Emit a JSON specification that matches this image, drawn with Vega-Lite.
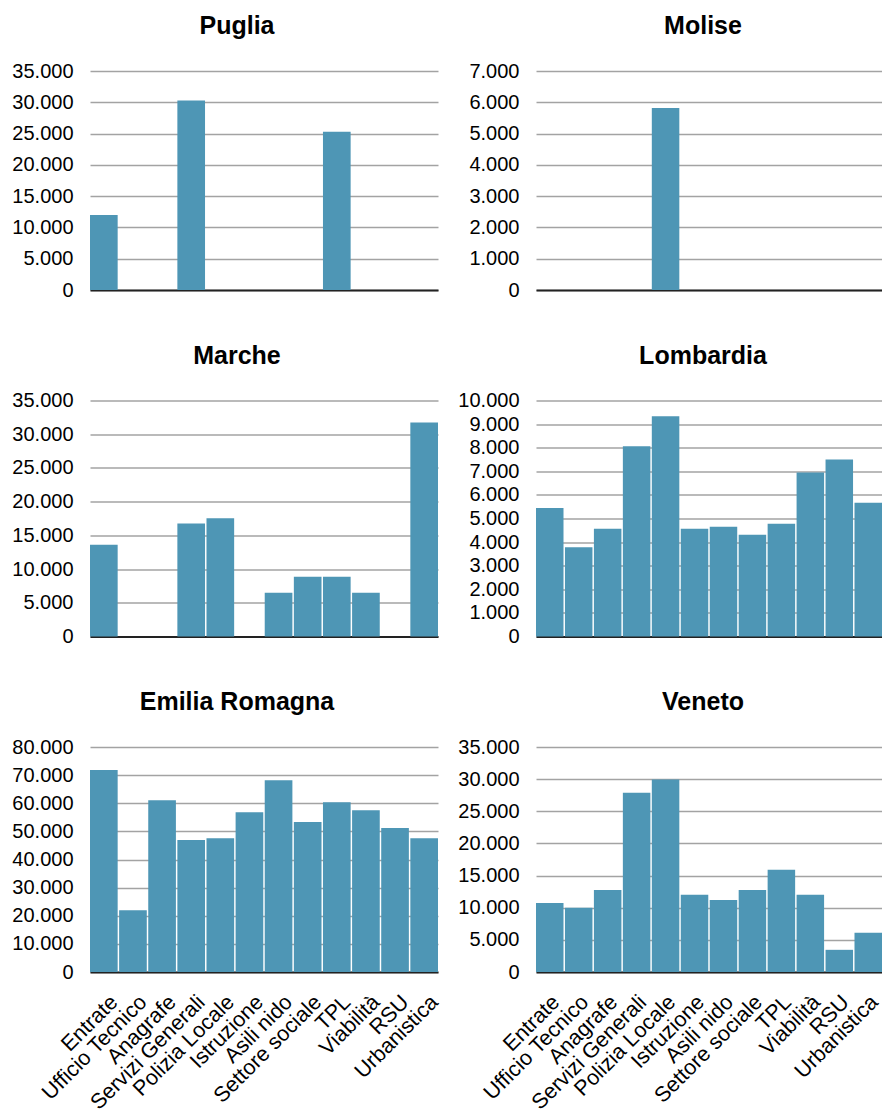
{
  "$schema": "https://vega.github.io/schema/vega-lite/v6.json",
  "padding": {"left": 11, "top": 14, "right": 0, "bottom": 0},
  "datasets": {
    "spese": [
      {"regione": "Puglia", "servizio": "Entrate", "valore": 12000},
      {"regione": "Puglia", "servizio": "Ufficio Tecnico", "valore": 0},
      {"regione": "Puglia", "servizio": "Anagrafe", "valore": 0},
      {"regione": "Puglia", "servizio": "Servizi Generali", "valore": 30300},
      {"regione": "Puglia", "servizio": "Polizia Locale", "valore": 0},
      {"regione": "Puglia", "servizio": "Istruzione", "valore": 0},
      {"regione": "Puglia", "servizio": "Asili nido", "valore": 0},
      {"regione": "Puglia", "servizio": "Settore sociale", "valore": 0},
      {"regione": "Puglia", "servizio": "TPL", "valore": 25300},
      {"regione": "Puglia", "servizio": "Viabilità", "valore": 0},
      {"regione": "Puglia", "servizio": "RSU", "valore": 0},
      {"regione": "Puglia", "servizio": "Urbanistica", "valore": 0},
      {"regione": "Molise", "servizio": "Entrate", "valore": 0},
      {"regione": "Molise", "servizio": "Ufficio Tecnico", "valore": 0},
      {"regione": "Molise", "servizio": "Anagrafe", "valore": 0},
      {"regione": "Molise", "servizio": "Servizi Generali", "valore": 0},
      {"regione": "Molise", "servizio": "Polizia Locale", "valore": 5820},
      {"regione": "Molise", "servizio": "Istruzione", "valore": 0},
      {"regione": "Molise", "servizio": "Asili nido", "valore": 0},
      {"regione": "Molise", "servizio": "Settore sociale", "valore": 0},
      {"regione": "Molise", "servizio": "TPL", "valore": 0},
      {"regione": "Molise", "servizio": "Viabilità", "valore": 0},
      {"regione": "Molise", "servizio": "RSU", "valore": 0},
      {"regione": "Molise", "servizio": "Urbanistica", "valore": 0},
      {"regione": "Marche", "servizio": "Entrate", "valore": 13600},
      {"regione": "Marche", "servizio": "Ufficio Tecnico", "valore": 0},
      {"regione": "Marche", "servizio": "Anagrafe", "valore": 0},
      {"regione": "Marche", "servizio": "Servizi Generali", "valore": 16750},
      {"regione": "Marche", "servizio": "Polizia Locale", "valore": 17550},
      {"regione": "Marche", "servizio": "Istruzione", "valore": 0},
      {"regione": "Marche", "servizio": "Asili nido", "valore": 6500},
      {"regione": "Marche", "servizio": "Settore sociale", "valore": 8850},
      {"regione": "Marche", "servizio": "TPL", "valore": 8850},
      {"regione": "Marche", "servizio": "Viabilità", "valore": 6500},
      {"regione": "Marche", "servizio": "RSU", "valore": 0},
      {"regione": "Marche", "servizio": "Urbanistica", "valore": 31750},
      {"regione": "Lombardia", "servizio": "Entrate", "valore": 5450},
      {"regione": "Lombardia", "servizio": "Ufficio Tecnico", "valore": 3780},
      {"regione": "Lombardia", "servizio": "Anagrafe", "valore": 4570},
      {"regione": "Lombardia", "servizio": "Servizi Generali", "valore": 8060},
      {"regione": "Lombardia", "servizio": "Polizia Locale", "valore": 9330},
      {"regione": "Lombardia", "servizio": "Istruzione", "valore": 4570},
      {"regione": "Lombardia", "servizio": "Asili nido", "valore": 4650},
      {"regione": "Lombardia", "servizio": "Settore sociale", "valore": 4310},
      {"regione": "Lombardia", "servizio": "TPL", "valore": 4780},
      {"regione": "Lombardia", "servizio": "Viabilità", "valore": 6950},
      {"regione": "Lombardia", "servizio": "RSU", "valore": 7500},
      {"regione": "Lombardia", "servizio": "Urbanistica", "valore": 5670},
      {"regione": "Emilia Romagna", "servizio": "Entrate", "valore": 71800},
      {"regione": "Emilia Romagna", "servizio": "Ufficio Tecnico", "valore": 22000},
      {"regione": "Emilia Romagna", "servizio": "Anagrafe", "valore": 61100},
      {"regione": "Emilia Romagna", "servizio": "Servizi Generali", "valore": 46900},
      {"regione": "Emilia Romagna", "servizio": "Polizia Locale", "valore": 47600},
      {"regione": "Emilia Romagna", "servizio": "Istruzione", "valore": 56800},
      {"regione": "Emilia Romagna", "servizio": "Asili nido", "valore": 68200},
      {"regione": "Emilia Romagna", "servizio": "Settore sociale", "valore": 53300},
      {"regione": "Emilia Romagna", "servizio": "TPL", "valore": 60400},
      {"regione": "Emilia Romagna", "servizio": "Viabilità", "valore": 57500},
      {"regione": "Emilia Romagna", "servizio": "RSU", "valore": 51200},
      {"regione": "Emilia Romagna", "servizio": "Urbanistica", "valore": 47600},
      {"regione": "Veneto", "servizio": "Entrate", "valore": 10750},
      {"regione": "Veneto", "servizio": "Ufficio Tecnico", "valore": 10000},
      {"regione": "Veneto", "servizio": "Anagrafe", "valore": 12750},
      {"regione": "Veneto", "servizio": "Servizi Generali", "valore": 27900},
      {"regione": "Veneto", "servizio": "Polizia Locale", "valore": 29950},
      {"regione": "Veneto", "servizio": "Istruzione", "valore": 12000},
      {"regione": "Veneto", "servizio": "Asili nido", "valore": 11200},
      {"regione": "Veneto", "servizio": "Settore sociale", "valore": 12750},
      {"regione": "Veneto", "servizio": "TPL", "valore": 15900},
      {"regione": "Veneto", "servizio": "Viabilità", "valore": 12000},
      {"regione": "Veneto", "servizio": "RSU", "valore": 3450},
      {"regione": "Veneto", "servizio": "Urbanistica", "valore": 6100}
    ]
  },
  "data": {"name": "spese"},
  "columns": 2,
  "bounds": "flush",
  "spacing": {"row": 110.5, "column": 98},
  "concat": [
    {
      "title": {"text": "Puglia", "dx": -27},
      "width": 348, "height": 219,
      "transform": [{"filter": "datum.regione === 'Puglia'"}],
      "mark": {"type": "bar"},
      "encoding": {
        "x": {"field": "servizio", "type": "nominal", "sort": null, "axis": {"labels": false, "title": null}},
        "y": {"field": "valore", "type": "quantitative", "scale": {"domain": [0, 35000]}, "axis": {"title": null, "values": [0, 5000, 10000, 15000, 20000, 25000, 30000, 35000]}}
      }
    },
    {
      "title": {"text": "Molise", "dx": -6},
      "width": 346, "height": 219,
      "transform": [{"filter": "datum.regione === 'Molise'"}],
      "mark": {"type": "bar"},
      "encoding": {
        "x": {"field": "servizio", "type": "nominal", "sort": null, "axis": {"labels": false, "title": null}},
        "y": {"field": "valore", "type": "quantitative", "scale": {"domain": [0, 7000]}, "axis": {"title": null, "values": [0, 1000, 2000, 3000, 4000, 5000, 6000, 7000]}}
      }
    },
    {
      "title": {"text": "Marche", "dx": -27},
      "width": 348, "height": 236,
      "transform": [{"filter": "datum.regione === 'Marche'"}],
      "mark": {"type": "bar"},
      "encoding": {
        "x": {"field": "servizio", "type": "nominal", "sort": null, "axis": {"labels": false, "title": null}},
        "y": {"field": "valore", "type": "quantitative", "scale": {"domain": [0, 35000]}, "axis": {"title": null, "values": [0, 5000, 10000, 15000, 20000, 25000, 30000, 35000]}}
      }
    },
    {
      "title": {"text": "Lombardia", "dx": -6},
      "width": 346, "height": 236,
      "transform": [{"filter": "datum.regione === 'Lombardia'"}],
      "mark": {"type": "bar"},
      "encoding": {
        "x": {"field": "servizio", "type": "nominal", "sort": null, "axis": {"labels": false, "title": null}},
        "y": {"field": "valore", "type": "quantitative", "scale": {"domain": [0, 10000]}, "axis": {"title": null, "values": [0, 1000, 2000, 3000, 4000, 5000, 6000, 7000, 8000, 9000, 10000]}}
      }
    },
    {
      "title": {"text": "Emilia Romagna", "dx": -27},
      "width": 348, "height": 225,
      "transform": [{"filter": "datum.regione === 'Emilia Romagna'"}],
      "mark": {"type": "bar"},
      "encoding": {
        "x": {"field": "servizio", "type": "nominal", "sort": null, "axis": {"title": null}},
        "y": {"field": "valore", "type": "quantitative", "scale": {"domain": [0, 80000]}, "axis": {"title": null, "values": [0, 10000, 20000, 30000, 40000, 50000, 60000, 70000, 80000]}}
      }
    },
    {
      "title": {"text": "Veneto", "dx": -6},
      "width": 346, "height": 225,
      "transform": [{"filter": "datum.regione === 'Veneto'"}],
      "mark": {"type": "bar"},
      "encoding": {
        "x": {"field": "servizio", "type": "nominal", "sort": null, "axis": {"title": null, "labelOffset": -1}},
        "y": {"field": "valore", "type": "quantitative", "scale": {"domain": [0, 35000]}, "axis": {"title": null, "values": [0, 5000, 10000, 15000, 20000, 25000, 30000, 35000]}}
      }
    }
  ],
  "config": {
    "locale": {"number": {"decimal": ",", "thousands": ".", "grouping": [3], "currency": ["", " €"]}},
    "font": "Liberation Sans",
    "view": {"stroke": null},
    "bar": {"color": "#4e96b5"},
    "scale": {"bandPaddingInner": 0.05, "bandPaddingOuter": 0},
    "title": {"fontSize": 25, "fontWeight": "bold", "color": "#000000", "offset": 22, "frame": "group", "anchor": "middle"},
    "axis": {"ticks": false, "labelFontSize": 20, "labelColor": "#000000", "labelPadding": 17, "gridColor": "#a3a3a3", "gridWidth": 1.5, "domainColor": "#222222", "domainWidth": 2},
    "axisY": {"domain": false, "grid": true, "format": ",d"},
    "axisX": {"grid": false, "labelAngle": -45, "labelPadding": 19, "labelOffset": 3, "labelFontSize": 21.5}
  }
}
